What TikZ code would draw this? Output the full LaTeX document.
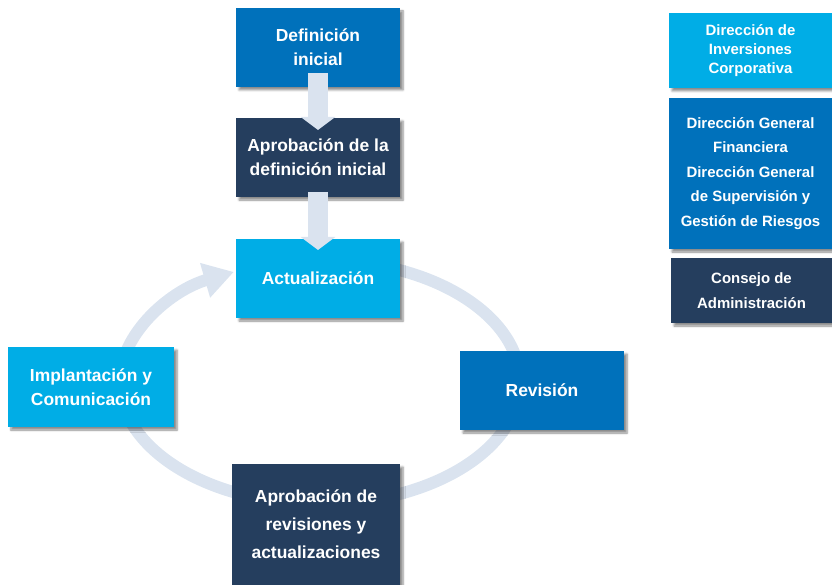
\documentclass[tikz,border=0pt]{standalone}
\usepackage{fontspec}
\setmainfont{Liberation Sans}
\usepackage{tikz}
\usetikzlibrary{arrows.meta}
\usetikzlibrary{shadows.blur}

\definecolor{lightblue}{HTML}{00ADE6}
\definecolor{midblue}{HTML}{0071BB}
\definecolor{darkblue}{HTML}{253E5E}
\definecolor{ringgrey}{HTML}{DAE3EF}

\begin{document}
\begin{tikzpicture}[x=1bp,y=-1bp,
  box/.style={rectangle,inner sep=0pt,outer sep=0pt,text=white,align=center,
    minimum width=164bp,minimum height=79bp,
    font=\bfseries\fontsize{17.5}{24}\selectfont,
    blur shadow={shadow xshift=3bp,shadow yshift=-3bp,shadow blur steps=6,shadow opacity=45}},
  lightbox/.style={box,fill=lightblue},
  midbox/.style={box,fill=midblue},
  darkbox/.style={box,fill=darkblue},
  legend/.style={font=\bfseries\fontsize{15}{24.5}\selectfont,minimum width=163bp},
  ring/.style={draw=ringgrey,line width=12bp,-{Triangle[width=34bp,length=30bp]}},
  downarrow/.style={draw=ringgrey,line width=20bp,-{Triangle[width=34bp,length=13bp]}}]
      \useasboundingbox (0,0) rectangle (832,585);

      % ring behind the boxes
      \coordinate (ringstart) at (354.7,261.9);
      \draw[ring] (ringstart) arc[start angle=-80,end angle=244.5,x radius=200,y radius=122];

      % cycle
      \node [midbox] (def) at (318,47.5) {Definición\\inicial};
      \node [darkbox] (apr) at (318,157.5) {Aprobación de la\\definición inicial};
      \node [lightbox] (act) at (318,278.5) {Actualización};
      \node [lightbox,minimum width=166bp,minimum height=80bp] (impl) at (91,387) {Implantación y\\Comunicación};
      \node [midbox] (rev) at (542,390.5) {Revisión};
      \node [darkbox,minimum width=168bp,minimum height=121bp,
        font=\bfseries\fontsize{17.5}{28}\selectfont] (aprrev) at (316,524.5)
        {Aprobación de\\revisiones y\\actualizaciones};

      % legend
      \node [lightbox,legend,minimum height=75bp,
        font=\bfseries\fontsize{15}{19.5}\selectfont] (inv) at (750.5,50.5)
        {Dirección de\\Inversiones\\Corporativa};
      \node [midbox,legend,minimum height=151bp] (dgf) at (750.5,173.5)
        {Dirección General\\Financiera\\Dirección General\\de Supervisión y\\Gestión de Riesgos};
      \node [darkbox,legend,minimum width=161bp,minimum height=65bp] (cons) at (751.5,290.5)
        {Consejo de\\Administración};

      % arrows on top
      \draw[downarrow] ([yshift=14bp]def.south) -- ([yshift=-12bp]apr.north);
      \draw[downarrow] ([yshift=5bp]apr.south) -- ([yshift=-11bp]act.north);

\end{tikzpicture}
\end{document}
